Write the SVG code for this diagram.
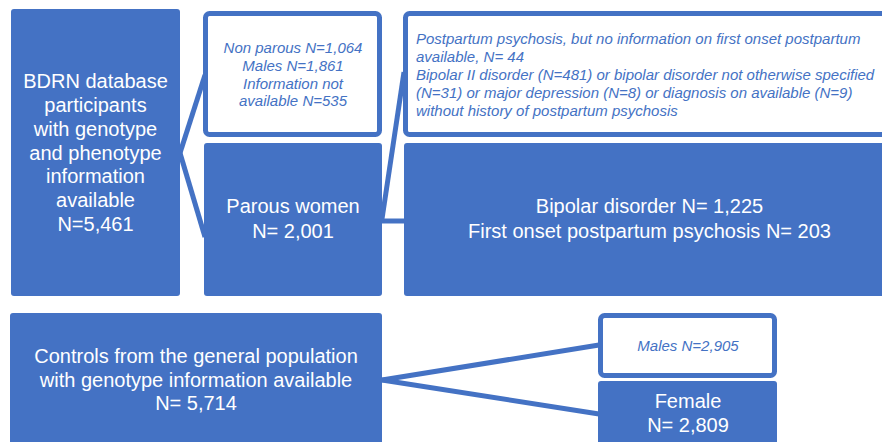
<svg xmlns="http://www.w3.org/2000/svg" width="882" height="442" viewBox="0 0 882 442">
<style>
.solid{fill:#4472C4;}
.outline{fill:#FFFFFF;stroke:#4472C4;stroke-width:5;}
.wt{fill:#FFFFFF;font-family:"Liberation Sans",Arial,sans-serif;font-size:20px;text-anchor:middle;}
.bt{fill:#4472C4;font-family:"Liberation Sans",Arial,sans-serif;font-size:15px;font-style:italic;}
.c{text-anchor:middle;}
.conn line{stroke:#4472C4;stroke-width:5;}
</style>
<rect width="882" height="442" fill="#FFFFFF"/>
<g class="conn" id="connectors">
<line x1="180" y1="153" x2="205" y2="75"/>
<line x1="180" y1="153" x2="205" y2="237"/>
<line x1="382" y1="219" x2="404" y2="72"/>
<line x1="382" y1="221" x2="404" y2="221"/>
<line x1="382" y1="380" x2="599" y2="345"/>
<line x1="382" y1="380" x2="599" y2="414"/>
</g>
<g id="bdrn">
<rect class="solid" x="11" y="9" width="169" height="287" rx="3"/>
<text class="wt" x="95.5" y="88">BDRN database</text>
<text class="wt" x="95.5" y="112">participants</text>
<text class="wt" x="95.5" y="136">with genotype</text>
<text class="wt" x="95.5" y="160">and phenotype</text>
<text class="wt" x="95.5" y="183">information</text>
<text class="wt" x="95.5" y="207">available</text>
<text class="wt" x="95.5" y="231">N=5,461</text>
</g>
<g id="excluded1">
<rect class="outline" x="205.5" y="13.5" width="174" height="121" rx="4"/>
<text class="bt c" x="293" y="53">Non parous N=1,064</text>
<text class="bt c" x="293" y="71">Males N=1,861</text>
<text class="bt c" x="293" y="89">Information not</text>
<text class="bt c" x="293" y="106">available N=535</text>
</g>
<g id="parous">
<rect class="solid" x="204" y="143" width="178" height="153" rx="3"/>
<text class="wt" x="293" y="213">Parous women</text>
<text class="wt" x="293" y="238">N= 2,001</text>
</g>
<g id="excluded2">
<rect class="outline" x="405.5" y="13.5" width="485" height="121" rx="4"/>
<text class="bt" x="416" y="44">Postpartum psychosis, but no information on first onset postpartum</text>
<text class="bt" x="416" y="62">available, N= 44</text>
<text class="bt" x="416" y="80">Bipolar II disorder (N=481) or bipolar disorder not otherwise specified</text>
<text class="bt" x="416" y="98">(N=31) or major depression (N=8) or diagnosis on available (N=9)</text>
<text class="bt" x="416" y="116">without history of postpartum psychosis</text>
</g>
<g id="bipolar">
<rect class="solid" x="404" y="143" width="486" height="153" rx="3"/>
<text class="wt" x="649.5" y="213">Bipolar disorder N= 1,225</text>
<text class="wt" x="649.5" y="238">First onset postpartum psychosis N= 203</text>
</g>
<g id="controls">
<rect class="solid" x="10" y="313" width="372" height="140" rx="3"/>
<text class="wt" x="196" y="363">Controls from the general population</text>
<text class="wt" x="196" y="387">with genotype information available</text>
<text class="wt" x="196" y="410">N= 5,714</text>
</g>
<g id="males">
<rect class="outline" x="600.5" y="315.5" width="174" height="60" rx="4"/>
<text class="bt c" x="688" y="351">Males N=2,905</text>
</g>
<g id="female">
<rect class="solid" x="598" y="381" width="179" height="70" rx="3"/>
<text class="wt" x="688" y="408">Female</text>
<text class="wt" x="688" y="432">N= 2,809</text>
</g>
</svg>
